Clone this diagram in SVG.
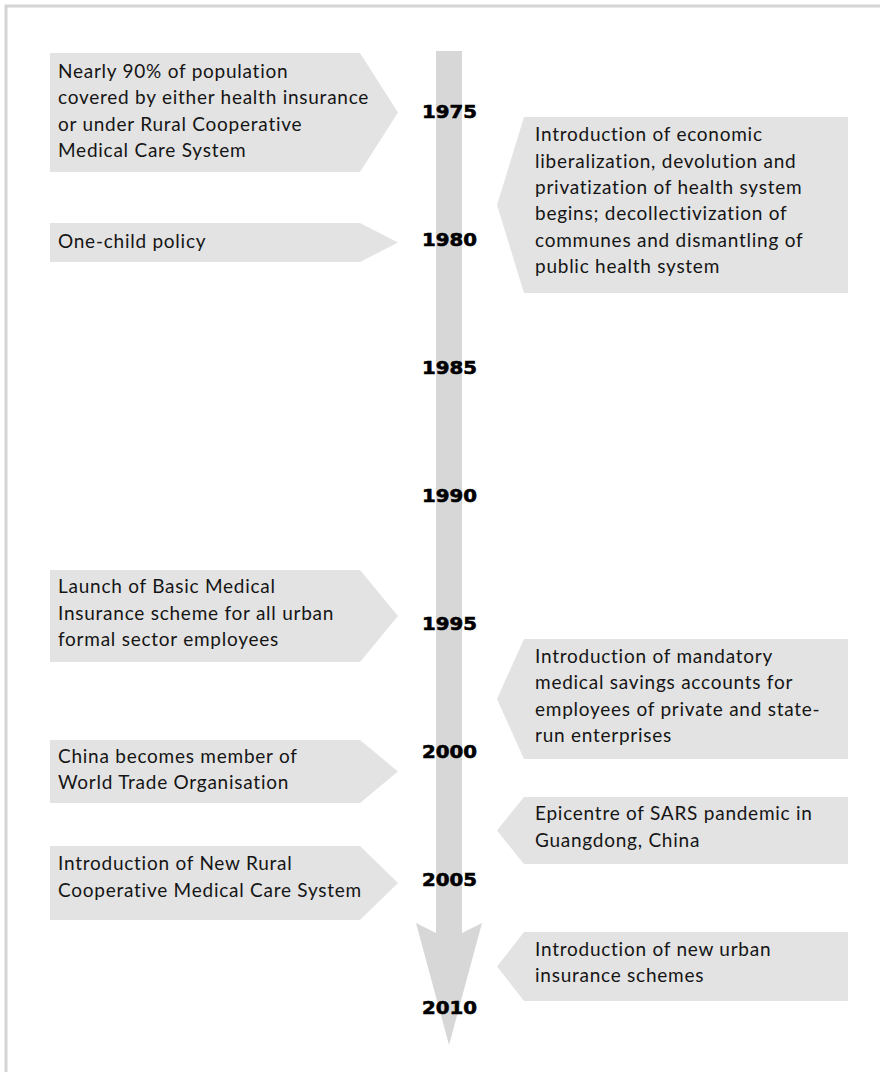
<svg xmlns="http://www.w3.org/2000/svg" width="880" height="1072" viewBox="0 0 880 1072">
<style>
.box{fill:#e3e3e3}
.bar{fill:#d7d7d7}
.t{font-family:Lato,"Liberation Sans",sans-serif;font-size:19px;letter-spacing:0.75px;fill:#151515}
.y{font-family:"DejaVu Sans",sans-serif;font-weight:bold;font-size:18px;fill:#000;stroke:#000;stroke-width:0.6px}
</style>
<rect x="0" y="0" width="880" height="1072" fill="#fff"/>
<path d="M6,1072 V6 H880" fill="none" stroke="#d4d4d4" stroke-width="3"/>
<g id="timeline">
<polygon class="bar" points="436,51 462,51 462,933 482,923 449,1045 416,923 436,933"/>
</g>
<g id="years">
<text class="y" x="422" y="118" textLength="55" lengthAdjust="spacingAndGlyphs">1975</text>
<text class="y" x="422" y="246" textLength="55" lengthAdjust="spacingAndGlyphs">1980</text>
<text class="y" x="422" y="374" textLength="55" lengthAdjust="spacingAndGlyphs">1985</text>
<text class="y" x="422" y="502" textLength="55" lengthAdjust="spacingAndGlyphs">1990</text>
<text class="y" x="422" y="630" textLength="55" lengthAdjust="spacingAndGlyphs">1995</text>
<text class="y" x="422" y="758" textLength="55" lengthAdjust="spacingAndGlyphs">2000</text>
<text class="y" x="422" y="886" textLength="55" lengthAdjust="spacingAndGlyphs">2005</text>
<text class="y" x="422" y="1014" textLength="55" lengthAdjust="spacingAndGlyphs">2010</text>
</g>
<g id="e1975">
<polygon class="box" points="50,53 360,53 398,112.5 360,172 50,172"/>
<text class="t" x="58" y="78">Nearly 90% of population</text>
<text class="t" x="58" y="104">covered by either health insurance</text>
<text class="t" x="58" y="131">or under Rural Cooperative</text>
<text class="t" x="58" y="157">Medical Care System</text>
</g>
<g id="e1980">
<polygon class="box" points="50,223 360,223 398,242.5 360,262 50,262"/>
<text class="t" x="58" y="248">One-child policy</text>
</g>
<g id="e1979">
<polygon class="box" points="524,117 848,117 848,293 524,293 497,205"/>
<text class="t" x="535" y="141">Introduction of economic</text>
<text class="t" x="535" y="168">liberalization, devolution and</text>
<text class="t" x="535" y="194">privatization of health system</text>
<text class="t" x="535" y="220">begins; decollectivization of</text>
<text class="t" x="535" y="247">communes and dismantling of</text>
<text class="t" x="535" y="273">public health system</text>
</g>
<g id="e1995">
<polygon class="box" points="50,570 360,570 398,616 360,662 50,662"/>
<text class="t" x="58" y="593">Launch of Basic Medical</text>
<text class="t" x="58" y="620">Insurance scheme for all urban</text>
<text class="t" x="58" y="646">formal sector employees</text>
</g>
<g id="e1998">
<polygon class="box" points="524,639 848,639 848,759 524,759 497,699"/>
<text class="t" x="535" y="663">Introduction of mandatory</text>
<text class="t" x="535" y="689">medical savings accounts for</text>
<text class="t" x="535" y="716">employees of private and state-</text>
<text class="t" x="535" y="742">run enterprises</text>
</g>
<g id="e2001">
<polygon class="box" points="50,740 360,740 398,771.5 360,803 50,803"/>
<text class="t" x="58" y="763">China becomes member of</text>
<text class="t" x="58" y="789">World Trade Organisation</text>
</g>
<g id="e2003">
<polygon class="box" points="524,797 848,797 848,864 524,864 497,830.5"/>
<text class="t" x="535" y="820">Epicentre of SARS pandemic in</text>
<text class="t" x="535" y="847">Guangdong, China</text>
</g>
<g id="e2003b">
<polygon class="box" points="50,846 360,846 398,883 360,920 50,920"/>
<text class="t" x="58" y="870">Introduction of New Rural</text>
<text class="t" x="58" y="897">Cooperative Medical Care System</text>
</g>
<g id="e2007">
<polygon class="box" points="524,932 848,932 848,1001 524,1001 497,966.5"/>
<text class="t" x="535" y="956">Introduction of new urban</text>
<text class="t" x="535" y="982">insurance schemes</text>
</g>
<g id="connectors"/>
</svg>
